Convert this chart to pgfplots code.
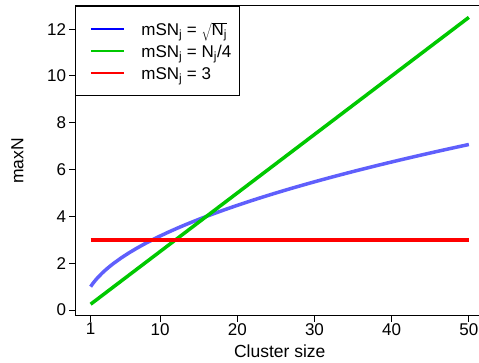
\documentclass[border=0pt]{standalone}
\usepackage{pgfplots}
\pgfplotsset{compat=1.18}
\usepackage{fontspec}
\setmainfont{Liberation Sans}
\definecolor{myblue}{RGB}{95,95,252}
\definecolor{mygreen}{RGB}{0,200,0}
\begin{document}
\begin{tikzpicture}
\useasboundingbox (-75.5pt,-47.3pt) rectangle (403.5pt,315.7pt);
\begin{axis}[
  name=ax,
  at={(0pt,0pt)}, anchor=south west,
  scale only axis,
  width=408.5pt, height=309.8pt,
  xmin=-0.96, xmax=51.96, ymin=-0.24, ymax=12.99,
  axis line style={line width=1pt, black},
  xtick={1,10,20,30,40,50},
  ytick={0,2,4,6,8,10,12},
  tick align=outside,
  xtick pos=lower, ytick pos=left,
  major tick length=6pt,
  tick style={line width=1pt, black},
  /pgf/number format/assume math mode=true,
  ticklabel style={font=\fontsize{17}{20}\selectfont},
  xticklabel style={yshift=2pt},
  legend style={at={(rel axis cs:0,1)}, anchor=north west, draw=black, line width=1pt,
    inner xsep=8pt, inner ysep=12pt, row sep=1pt, column sep=16pt,
    font=\fontsize{17}{20}\selectfont,
    nodes={inner sep=0pt, text height=17pt, text depth=4pt}},
  legend cell align=left,
  legend image code/.code={\path[draw=none, fill=none] (0pt,0pt) -- (7pt,0pt); \draw[#1, line width=2.7pt] (7pt,0pt) -- (40pt,0pt);},
]
\addlegendimage{color=blue}
\addlegendentry{mSN\textsubscript{j} = $\sqrt{\mbox{N\textsubscript{j}}}$}
\addlegendimage{color=mygreen}
\addlegendentry{mSN\textsubscript{j} = N\textsubscript{j}/4}
\addlegendimage{color=red}
\addlegendentry{mSN\textsubscript{j} = 3}
\addplot[color=myblue, line width=3.5pt, forget plot] coordinates {
(1,1) (1.25,1.118) (1.5,1.2247) (1.75,1.3229) (2,1.4142) (2.5,1.5811) (3,1.7321) (3.5,1.8708)
(4,2) (5,2.2361) (6,2.4495) (7,2.6458) (8,2.8284) (9,3) (10,3.1623)
(11,3.3166) (12,3.4641) (13,3.6056) (14,3.7417) (15,3.873) (16,4) (17,4.1231)
(18,4.2426) (19,4.3589) (20,4.4721) (21,4.5826) (22,4.6904) (23,4.7958) (24,4.899)
(25,5) (26,5.099) (27,5.1962) (28,5.2915) (29,5.3852) (30,5.4772) (31,5.5678)
(32,5.6569) (33,5.7446) (34,5.831) (35,5.9161) (36,6) (37,6.0828) (38,6.1644)
(39,6.245) (40,6.3246) (41,6.4031) (42,6.4807) (43,6.5574) (44,6.6332) (45,6.7082)
(46,6.7823) (47,6.8557) (48,6.9282) (49,7) (50,7.0711)};
\addplot[color=mygreen, line width=3.5pt, forget plot] coordinates {(1,0.25) (50,12.5)};
\addplot[color=red, line width=3.5pt, forget plot] coordinates {(1,3) (50,3)};
\end{axis}
\node[rotate=90, anchor=center, font=\fontsize{17.5}{20}\selectfont] at ([xshift=-58pt]ax.west) {maxN};
\node[anchor=base, font=\fontsize{17.5}{20}\selectfont] at ([yshift=-42.3pt]ax.south) {Cluster size};
\end{tikzpicture}
\end{document}
